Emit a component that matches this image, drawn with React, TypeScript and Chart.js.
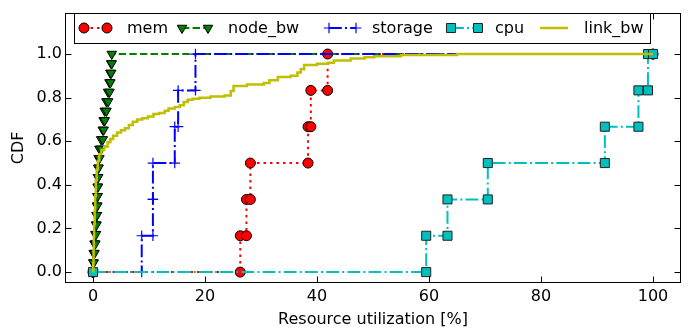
import React, { useEffect, useRef } from "react";
import { Chart, registerables } from "chart.js";

Chart.register(...registerables);

// ---------- data ----------
const seriesNames = ["mem", "node_bw", "storage", "cpu", "link_bw"];
const memValues = [26.3, 27.4, 28.1, 38.4, 38.9, 41.9];
const nodeBwValues = [
  0.05, 0.12, 0.27, 0.42, 0.54, 0.63, 0.7, 0.78, 0.83, 0.88, 0.92, 1.0,
  1.15, 1.45, 1.75, 1.9, 2.1, 2.4, 2.7, 2.95, 3.1, 3.25, 3.35,
];
const storageValues = [8.7, 10.7, 10.7, 14.6, 15.2, 18.3];
const cpuValues = [59.5, 63.3, 70.5, 91.4, 97.4, 99.1];
const linkBwX = [
  0.05, 0.1, 0.15, 0.2, 0.3, 0.4, 0.5, 0.65, 0.85, 1.1, 1.5, 2.0, 2.6, 3.1,
  3.6, 4.3, 5.0, 5.7, 6.4, 7.1, 7.9, 8.8, 9.8, 10.8, 11.8, 12.8, 13.5, 14.6,
  15.5, 16.2, 16.9, 17.8, 19.0, 21.0, 23.5, 24.6, 25.1, 27.5, 30.5, 31.5,
  33.0, 35.3, 36.5, 37.1, 37.7, 40.0, 42.0, 43.0, 46.0, 48.5, 50.2, 55.0,
  65.0,
];
const linkBwY = [
  0.04, 0.1, 0.16, 0.22, 0.28, 0.35, 0.42, 0.47, 0.51, 0.54, 0.56, 0.575,
  0.595, 0.61, 0.625, 0.64, 0.65, 0.66, 0.675, 0.69, 0.7, 0.705, 0.713,
  0.725, 0.73, 0.74, 0.75, 0.757, 0.765, 0.78, 0.79, 0.795, 0.8, 0.805, 0.81,
  0.83, 0.853, 0.86, 0.867, 0.88, 0.895, 0.9, 0.915, 0.93, 0.95, 0.955, 0.96,
  0.97, 0.98, 0.985, 0.99, 0.995, 1.0,
];
const xTicks = [0, 20, 40, 60, 80, 100];
const yTicks = [0, 0.2, 0.4, 0.6, 0.8, 1.0];
const xTitle = "Resource utilization [%]";
const yTitle = "CDF";

// ---------- styles ----------
const FONT = "'DejaVu Sans', sans-serif";
const DASH_DOT = [12.8, 3.2, 2, 3.2];
const styles: any = {
  mem: { color: "#ff0000", dash: [2.5, 4], marker: "circle", r: 5, lw: 2 },
  node_bw: { color: "#008000", dash: [7.4, 3.2], marker: "triDown", r: 5.5, lw: 2 },
  storage: { color: "#0000ff", dash: DASH_DOT, marker: "plus", r: 5.2, lw: 2 },
  cpu: { color: "#00bfbf", dash: DASH_DOT, marker: "square", r: 6.4, lw: 2 },
  link_bw: { color: "#bfbf00", dash: [], marker: "none", r: 0, lw: 2.5 },
};

function cdfPoints(values: number[]) {
  const n = values.length;
  const pts: { x: number; y: number }[] = [{ x: 0, y: 0 }];
  values.forEach((v, i) => {
    pts.push({ x: v, y: i / n });
    pts.push({ x: v, y: (i + 1) / n });
  });
  pts.push({ x: 100, y: 1 });
  return pts;
}

function stepPoints(xs: number[], ys: number[]) {
  const pts: { x: number; y: number }[] = [{ x: 0, y: 0 }];
  xs.forEach((x, i) => pts.push({ x, y: ys[i] }));
  pts.push({ x: 100, y: 1 });
  return pts;
}

function markerDataset(name: string, data: any[], order: number) {
  const s = styles[name];
  const base: any = {
    label: name,
    data,
    order,
    showLine: true,
    borderColor: s.color,
    borderWidth: s.lw,
    borderDash: s.dash,
    borderCapStyle: "butt",
    pointRadius: s.r,
    pointHoverRadius: s.r,
  };
  if (s.marker === "circle") {
    Object.assign(base, { pointStyle: "circle", pointBackgroundColor: s.color, pointBorderColor: "#000", pointBorderWidth: 1 });
  } else if (s.marker === "triDown") {
    Object.assign(base, { pointStyle: "triangle", pointRotation: 180, pointBackgroundColor: s.color, pointBorderColor: "#000", pointBorderWidth: 1 });
  } else if (s.marker === "plus") {
    Object.assign(base, { pointStyle: "cross", pointBackgroundColor: s.color, pointBorderColor: s.color, pointBorderWidth: 1.2 });
  } else if (s.marker === "square") {
    Object.assign(base, { pointStyle: "rect", pointBackgroundColor: s.color, pointBorderColor: "#222", pointBorderWidth: 1 });
  }
  return base;
}

function drawMarker(ctx: CanvasRenderingContext2D, s: any, x: number, y: number) {
  ctx.save();
  ctx.setLineDash([]);
  const r = s.r;
  ctx.beginPath();
  if (s.marker === "circle") {
    ctx.arc(x, y, r, 0, Math.PI * 2);
  } else if (s.marker === "triDown") {
    ctx.moveTo(x, y + r);
    ctx.lineTo(x - r * 0.866, y - r / 2);
    ctx.lineTo(x + r * 0.866, y - r / 2);
    ctx.closePath();
  } else if (s.marker === "square") {
    const h = r * Math.SQRT1_2;
    ctx.rect(x - h, y - h, 2 * h, 2 * h);
  } else if (s.marker === "plus") {
    ctx.moveTo(x - r, y);
    ctx.lineTo(x + r, y);
    ctx.moveTo(x, y - r);
    ctx.lineTo(x, y + r);
    ctx.strokeStyle = s.color;
    ctx.lineWidth = 1.2;
    ctx.stroke();
    ctx.restore();
    return;
  }
  ctx.fillStyle = s.color;
  ctx.fill();
  ctx.strokeStyle = s.marker === "square" ? "#222" : "#000";
  ctx.lineWidth = 1;
  ctx.stroke();
  ctx.restore();
}

// legend layout: [handle start, handle end, text x]
const legendLayout: Record<string, number[]> = {
  mem: [84, 107, 127],
  node_bw: [182, 208, 228],
  storage: [329, 356, 372],
  cpu: [451, 478, 495],
  link_bw: [540, 568, 584],
};

const framePlugin = {
  id: "mplFrame",
  afterDatasetsDraw(chart: any) {
    const { ctx, chartArea: a, scales } = chart;
    ctx.save();
    ctx.strokeStyle = "#000";
    ctx.lineWidth = 1;
    ctx.setLineDash([]);
    const L = Math.round(a.left) + 0.5;
    const R = Math.round(a.right) - 0.5;
    const T = Math.round(a.top) + 0.5;
    const B = Math.round(a.bottom) - 0.5;
    ctx.strokeRect(L, T, R - L, B - T);
    const tl = 6;
    ctx.beginPath();
    xTicks.forEach((v) => {
      const px = Math.round(scales.x.getPixelForValue(v)) + 0.5;
      ctx.moveTo(px, B);
      ctx.lineTo(px, B - tl);
      ctx.moveTo(px, T);
      ctx.lineTo(px, T + tl);
    });
    yTicks.forEach((v) => {
      const py = Math.round(scales.y.getPixelForValue(v)) + 0.5;
      ctx.moveTo(L, py);
      ctx.lineTo(L + tl, py);
      ctx.moveTo(R, py);
      ctx.lineTo(R - tl, py);
    });
    ctx.stroke();
    ctx.restore();
  },
};

const legendPlugin = {
  id: "mplLegend",
  afterDraw(chart: any) {
    const ctx: CanvasRenderingContext2D = chart.ctx;
    ctx.save();
    const bx = 74, by = 13, bw = 576, bh = 30;
    ctx.fillStyle = "#fff";
    ctx.fillRect(bx, by, bw, bh);
    ctx.strokeStyle = "#000";
    ctx.lineWidth = 1;
    ctx.setLineDash([]);
    ctx.strokeRect(bx + 0.5, by + 0.5, bw, bh);
    const cy = by + bh / 2;
    ctx.font = `16px ${FONT}`;
    ctx.textBaseline = "middle";
    ctx.textAlign = "left";
    seriesNames.forEach((name) => {
      const s = styles[name];
      const [h1, h2, tx] = legendLayout[name];
      ctx.save();
      ctx.beginPath();
      ctx.strokeStyle = s.color;
      ctx.lineWidth = s.lw;
      ctx.setLineDash(s.dash);
      ctx.moveTo(h1, cy);
      ctx.lineTo(h2, cy);
      ctx.stroke();
      ctx.restore();
      if (s.marker !== "none") {
        drawMarker(ctx, s, h1, cy);
        drawMarker(ctx, s, h2, cy);
      }
      ctx.fillStyle = "#000";
      ctx.fillText(name, tx, cy + 1);
    });
    ctx.restore();
  },
};

export default function App() {
  const ref = useRef<HTMLCanvasElement>(null);
  useEffect(() => {
    if (!ref.current) return;
    Chart.defaults.font.family = FONT;
    const datasets = [
      markerDataset("mem", cdfPoints(memValues), 5),
      markerDataset("node_bw", cdfPoints(nodeBwValues), 4),
      markerDataset("storage", cdfPoints(storageValues), 3),
      markerDataset("cpu", cdfPoints(cpuValues), 2),
      {
        label: "link_bw",
        data: stepPoints(linkBwX, linkBwY),
        order: 1,
        showLine: true,
        stepped: true,
        borderColor: styles.link_bw.color,
        borderWidth: styles.link_bw.lw,
        pointRadius: 0,
        pointHoverRadius: 0,
      },
    ];
    const chart = new Chart(ref.current, {
      type: "scatter",
      data: { datasets: datasets as any },
      options: {
        animation: false,
        responsive: false,
        devicePixelRatio: 1,
        events: [],
        layout: { padding: { top: 5, right: 12, left: 0, bottom: 0 } },
        plugins: { legend: { display: false }, tooltip: { enabled: false } },
        scales: {
          x: {
            type: "linear",
            min: -5,
            max: 105,
            grid: { display: false, drawTicks: false },
            border: { display: false },
            afterBuildTicks: (scale: any) => {
              scale.ticks = xTicks.map((v) => ({ value: v }));
            },
            afterFit: (scale: any) => {
              scale.height = 46;
            },
            ticks: {
              padding: 4,
              color: "#000",
              font: { size: 16, family: FONT },
              maxRotation: 0,
              callback: (v: any) => String(v),
            },
            title: {
              display: true,
              text: xTitle,
              color: "#000",
              font: { size: 16, family: FONT },
              padding: { top: 0, bottom: 0 },
            },
          },
          y: {
            type: "linear",
            min: -0.05,
            max: 1.19,
            grid: { display: false, drawTicks: false },
            border: { display: false },
            afterBuildTicks: (scale: any) => {
              scale.ticks = yTicks.map((v) => ({ value: v }));
            },
            afterFit: (scale: any) => {
              scale.width = 65;
            },
            ticks: {
              padding: 3,
              color: "#000",
              font: { size: 16, family: FONT },
              callback: (v: any) => Number(v).toFixed(1),
            },
            title: {
              display: true,
              text: yTitle,
              color: "#000",
              font: { size: 16, family: FONT },
              padding: { top: 9.4, bottom: 0 },
            },
          },
        },
      },
      plugins: [framePlugin, legendPlugin],
    });
    return () => chart.destroy();
  }, []);
  return (
    <div style={{ position: "absolute", left: 0, top: 0, width: 693, height: 329, background: "#fff" }}>
      <canvas ref={ref} width={693} height={329} />
    </div>
  );
}
